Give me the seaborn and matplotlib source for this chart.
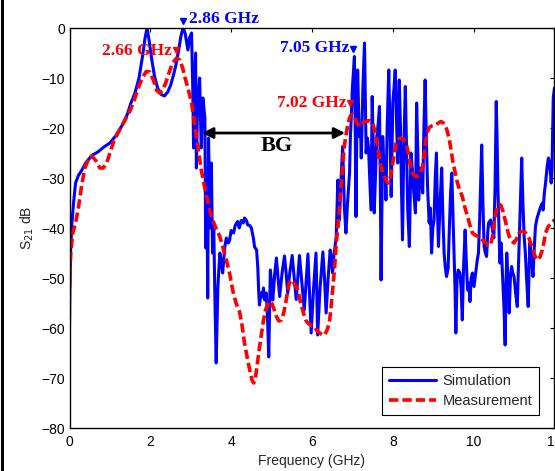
import seaborn as sns
import pandas as pd
import matplotlib
import matplotlib.pyplot as plt
from matplotlib.lines import Line2D

matplotlib.use('Agg')

# simulated S21 (GHz, dB)
sim_freq = [0.00, 0.01, 0.03, 0.06, 0.10, 0.15, 0.22, 0.30, 0.40, 0.55, 0.70, 0.85, 1.00, 1.15, 1.30,
            1.42, 1.52, 1.62, 1.72, 1.80, 1.87, 1.92, 1.97, 2.03, 2.10, 2.18, 2.27, 2.35, 2.43, 2.50,
            2.57, 2.63, 2.70, 2.76, 2.81, 2.86, 2.93, 2.97, 3.02, 3.05, 3.07, 3.10, 3.12, 3.14, 3.17,
            3.22, 3.26, 3.30, 3.35, 3.37, 3.40, 3.42, 3.44, 3.48, 3.51, 3.54, 3.57, 3.60, 3.63, 3.67,
            3.72, 3.76, 3.79, 3.84, 3.88, 3.93, 3.96, 4.00, 4.06, 4.10, 4.16, 4.20, 4.25, 4.30, 4.33,
            4.38, 4.41, 4.46, 4.50, 4.55, 4.58, 4.63, 4.66, 4.68, 4.70, 4.74, 4.77, 4.80, 4.83, 4.87,
            4.90, 4.93, 4.97, 5.00, 5.03, 5.08, 5.12, 5.16, 5.20, 5.26, 5.32, 5.36, 5.40, 5.45, 5.51,
            5.56, 5.61, 5.65, 5.69, 5.75, 5.81, 5.86, 5.90, 5.94, 5.98, 6.04, 6.10, 6.12, 6.14, 6.20,
            6.27, 6.31, 6.35, 6.40, 6.45, 6.48, 6.51, 6.55, 6.60, 6.62, 6.64, 6.66, 6.68, 6.72, 6.76,
            6.78, 6.80, 6.84, 6.88, 6.93, 6.95, 6.97, 7.00, 7.03, 7.05, 7.07, 7.09, 7.11, 7.13, 7.15,
            7.17, 7.20, 7.22, 7.26, 7.30, 7.32, 7.34, 7.37, 7.40, 7.43, 7.46, 7.49, 7.52, 7.54, 7.57,
            7.60, 7.64, 7.67, 7.69, 7.71, 7.73, 7.75, 7.78, 7.80, 7.83, 7.86, 7.90, 7.93, 7.96, 7.98,
            8.00, 8.03, 8.06, 8.09, 8.12, 8.14, 8.16, 8.19, 8.21, 8.24, 8.27, 8.31, 8.34, 8.37, 8.41,
            8.45, 8.48, 8.52, 8.56, 8.59, 8.62, 8.64, 8.68, 8.71, 8.74, 8.77, 8.80, 8.83, 8.86, 8.90,
            8.93, 8.96, 8.99, 9.02, 9.05, 9.08, 9.10, 9.13, 9.17, 9.21, 9.24, 9.27, 9.30, 9.33, 9.37,
            9.40, 9.43, 9.46, 9.49, 9.52, 9.54, 9.56, 9.59, 9.62, 9.66, 9.69, 9.72, 9.75, 9.79, 9.82,
            9.85, 9.88, 9.91, 9.94, 9.97, 10.01, 10.05, 10.09, 10.12, 10.15, 10.20, 10.23, 10.26, 10.29,
            10.32, 10.35, 10.37, 10.42, 10.46, 10.50, 10.53, 10.56, 10.58, 10.60, 10.65, 10.68, 10.72,
            10.75, 10.78, 10.80, 10.82, 10.85, 10.88, 10.91, 10.94, 10.97, 11.00, 11.04, 11.08, 11.12,
            11.16, 11.19, 11.22, 11.25, 11.28, 11.31, 11.35, 11.39, 11.43, 11.47, 11.50, 11.53, 11.57,
            11.61, 11.66, 11.70, 11.72, 11.75, 11.78, 11.82, 11.85, 11.88, 11.92, 11.94, 11.97, 12.00]
sim_db = [-60, -52, -44, -39, -35, -31, -29.5, -28.5, -27, -25.5, -24.8, -23.8, -23, -21.5, -19.5,
          -17.5, -15, -13, -10, -6, -2, 0, -2.5, -6, -9.5, -12, -13.3, -13.6, -12.8, -11.5,
          -9.5, -7.5, -4.5, -1.5, 0, -1.0, -4.4, -2, -1, -12, -24, -12, -5, -28, -15,
          -10, -24, -14, -18, -44, -30, -54, -22, -40, -27, -45, -40, -55, -67, -52,
          -45, -47, -49, -44, -42, -43, -42.5, -40.5, -41, -39.5, -38.7, -40, -38.5, -39, -38,
          -38.5, -39.4, -39.5, -40, -42, -43.8, -44.4, -48, -52.4, -55.4, -53, -53.8, -52, -54.4, -53,
          -58, -65.8, -48.4, -51, -54.4, -49, -46, -50, -53.7, -49, -45.6, -49, -53, -49, -45.5,
          -50, -54.3, -50, -45.5, -51, -56.4, -50, -45.2, -53, -61, -52, -45, -53, -61.4, -52,
          -44.8, -50, -57, -50, -44.4, -46, -49, -45, -41.7, -36, -30.4, -34, -38.4, -30, -23.7,
          -30, -35.7, -41, -35, -29, -22, -18.4, -12, -8, -5.7, -20, -37.7, -20, -8.4, -15,
          -21.7, -20, -26, -12, -3, -14, -25, -22, -24, -30, -36.4, -13.7, -25, -37, -30,
          -22, -19, -15.7, -30, -50.4, -35, -21.7, -28, -26, -34.4, -20, -8.4, -20, -33.7, -25,
          -15, -12, -8.4, -18, -27, -17, -10.4, -20, -30, -42.4, -25, -11.7, -24, -36.4, -43.7,
          -25, -28, -33, -37, -15, -25, -34.4, -28, -30, -33, -20, -10.4, -22, -31.7, -39,
          -36, -45, -40, -38.4, -30, -25, -35, -43.7, -35, -28, -38, -45, -48, -49.7, -48,
          -40, -33, -29, -38, -46.4, -52, -61, -50, -48.4, -49, -52, -58.4, -48, -40.4, -47,
          -52.4, -51, -54.7, -50, -49, -51.7, -49, -46.4, -45, -38, -23.4, -35, -43.7, -45,
          -45.7, -41, -39, -38.4, -40, -42, -32, -14.7, -22, -31.7, -47, -43, -50,
          -55.7, -63.4, -52, -45, -50, -57, -50, -47.7, -49, -49.7, -53, -55.7, -45,
          -35, -26, -35, -41.7, -45, -50, -55.7, -43, -46, -49.7, -44, -39.7, -38,
          -37, -35.7, -35, -36.4, -33, -31, -27.7, -26, -27, -31, -28, -14, -12]

# measured S21 (GHz, dB)
meas_freq = [0.00, 0.03, 0.08, 0.15, 0.22, 0.30, 0.38, 0.46, 0.55, 0.65, 0.75, 0.83, 0.92, 1.00, 1.10,
             1.20, 1.30, 1.40, 1.50, 1.60, 1.70, 1.80, 1.90, 1.99, 2.08, 2.16, 2.23, 2.30, 2.38, 2.46,
             2.55, 2.65, 2.73, 2.80, 2.85, 2.93, 3.02, 3.14, 3.26, 3.39, 3.51, 3.62, 3.72, 3.80, 3.88,
             3.96, 4.04, 4.12, 4.21, 4.27, 4.33, 4.40, 4.46, 4.52, 4.56, 4.60, 4.64, 4.69, 4.74, 4.80,
             4.85, 4.92, 4.99, 5.05, 5.12, 5.18, 5.24, 5.30, 5.35, 5.40, 5.44, 5.48, 5.53, 5.59, 5.65,
             5.72, 5.79, 5.85, 5.90, 5.98, 6.06, 6.12, 6.19, 6.25, 6.31, 6.37, 6.43, 6.47, 6.51, 6.56,
             6.60, 6.64, 6.68, 6.72, 6.76, 6.80, 6.84, 6.88, 6.93, 6.97, 7.01, 7.05, 7.11, 7.17, 7.25,
             7.34, 7.42, 7.50, 7.55, 7.58, 7.63, 7.67, 7.73, 7.79, 7.85, 7.90, 7.95, 8.00, 8.04, 8.08,
             8.14, 8.20, 8.27, 8.33, 8.37, 8.41, 8.45, 8.49, 8.55, 8.61, 8.68, 8.74, 8.78, 8.82, 8.86,
             8.90, 8.98, 9.07, 9.13, 9.19, 9.25, 9.31, 9.36, 9.40, 9.44, 9.48, 9.54, 9.60, 9.66, 9.72,
             9.78, 9.85, 9.91, 9.97, 10.05, 10.14, 10.22, 10.30, 10.36, 10.42, 10.47, 10.51, 10.55, 10.59,
             10.63, 10.67, 10.72, 10.78, 10.83, 10.88, 10.94, 11.00, 11.06, 11.12, 11.18, 11.25, 11.31,
             11.37, 11.43, 11.49, 11.54, 11.58, 11.64, 11.70, 11.74, 11.78, 11.84, 11.91, 12.00]
meas_db = [-52, -45, -41, -39, -36, -31.5, -28, -26.4, -25.6, -26.5, -28, -28, -27, -25, -22.5,
           -21, -19.5, -18, -16.5, -14.5, -12, -10, -8.7, -8.8, -10.5, -12.5, -13, -12.5, -11, -9,
           -7, -6, -6.4, -8, -9.7, -12, -15, -21.7, -28.4, -33.7, -37.7, -40, -41.7, -44, -46.4,
           -49, -52.5, -55, -56.8, -59.5, -63, -66, -68.4, -70.5, -71, -70, -67.7, -64.5, -61.7, -58.5,
           -56.4, -55, -54.7, -56, -57.7, -58.6, -58.4, -57, -55, -52.5, -51, -50.4, -50.7, -51.5, -52.4,
           -55, -57, -58.5, -59, -59.5, -59.7, -60.5, -61, -61.4, -61.4, -60.5, -59, -56, -52.4, -48,
           -43, -40, -36, -31.7, -27.5, -23.7, -21.5, -19.7, -18, -17.4, -17.3, -17.7, -19, -19.7, -19,
           -18.7, -18.5, -19, -20.5, -21.7, -24, -26.4, -28.5, -29.7, -30.7, -31, -29.5, -27, -25, -23,
           -22.2, -22, -22.3, -23, -24.5, -26.4, -28, -29, -29.6, -29.7, -29, -27.7, -25, -22.4, -20.8,
           -19.9, -19.5, -19.3, -19, -18.7, -19, -19.7, -21, -22.4, -24.3, -26.4, -28.8, -31, -32.5, -33.7,
           -35.8, -37.7, -39.5, -41, -41.5, -41.7, -42.4, -43, -43.5, -43.4, -41.5, -39, -37, -35.7,
           -35.3, -35.4, -36.5, -38.4, -40.2, -41.7, -42.6, -43, -42.2, -41, -40.7, -40.7, -41.2,
           -42, -43.5, -45, -46, -46.4, -45.8, -44.4, -42.8, -41, -39.8, -39, -38.4]

x_ticks = [0, 2, 4, 6, 8, 10, 12]
y_ticks = [-80, -70, -60, -50, -40, -30, -20, -10, 0]

sim_df = pd.DataFrame({'Frequency': sim_freq, 'S21': sim_db})
meas_df = pd.DataFrame({'Frequency': meas_freq, 'S21': meas_db})

sns.set_theme(style='white')
plt.rcParams['font.family'] = ['Liberation Sans', 'DejaVu Sans']
plt.rcParams.update({'xtick.direction': 'in', 'ytick.direction': 'in',
                     'xtick.top': True, 'ytick.right': True,
                     'xtick.major.size': 3, 'ytick.major.size': 3,
                     'xtick.major.width': 0.8, 'ytick.major.width': 0.8,
                     'xtick.color': 'black', 'ytick.color': 'black',
                     'axes.edgecolor': 'black', 'axes.linewidth': 1.0})

fig = plt.figure(figsize=(5.55, 4.71), dpi=100)
ax = fig.add_axes([69.5 / 555, 1 - 428 / 471, 1 - 69.5 / 555 - 0.001, 400 / 471])

sns.lineplot(data=sim_df, x='Frequency', y='S21', ax=ax, color='#0000ff',
             linewidth=2.2, estimator=None, sort=False, label='Simulation')
sns.lineplot(data=meas_df, x='Frequency', y='S21', ax=ax, color='#ff0000',
             linewidth=2.6, estimator=None, sort=False, label='Measurement')
ax.lines[1].set_dashes((2.6, 1.1))

ax.set_xlim(0, 12)
ax.set_ylim(-80, 0)
ax.set_xticks(x_ticks)
ax.set_yticks(y_ticks)
ax.tick_params(axis='x', labelsize=10, pad=5, colors='black')
ax.tick_params(axis='y', labelsize=10, pad=3, colors='black')
ax.set_xlabel('Frequency (GHz)', fontsize=10, labelpad=4)
ax.set_ylabel('S$_{21}$ dB', fontsize=10, labelpad=4)

# peak markers and labels
serif_bold = dict(family=['Liberation Serif', 'DejaVu Serif'], weight='bold', fontsize=12.5)
ax.plot([2.80], [1.4], marker='v', color='#0000ff', markersize=5, clip_on=False)
ax.text(2.96, 1.8, '2.86 GHz', color='#0000ff', ha='left', va='center', **serif_bold)
ax.plot([2.63], [-4.4], marker='v', color='#ff0000', markersize=5)
ax.text(2.53, -4.6, '2.66 GHz', color='#ff0000', ha='right', va='center', **serif_bold)
ax.plot([7.02], [-4.2], marker='v', color='#0000ff', markersize=5)
ax.text(6.93, -4.0, '7.05 GHz', color='#0000ff', ha='right', va='center', **serif_bold)
ax.plot([6.95], [-15.0], marker='v', color='#ff0000', markersize=5)
ax.text(6.86, -15.0, '7.02 GHz', color='#ff0000', ha='right', va='center', **serif_bold)

ax.annotate('', xy=(3.28, -21), xytext=(6.82, -21),
            arrowprops=dict(arrowstyle='<|-|>', color='black', lw=2,
                            mutation_scale=16, shrinkA=0, shrinkB=0))
ax.text(5.13, -23.6, 'BG', color='black', ha='center', va='center',
        family=['Liberation Serif', 'DejaVu Serif'], weight='bold', fontsize=16)

leg = ax.legend(loc='lower right', bbox_to_anchor=(0.969, 0.0325), borderaxespad=0,
                fontsize=10.5, frameon=True, fancybox=False, handlelength=3.2,
                handletextpad=0.45, borderpad=0.5, labelspacing=0.4)
leg.get_frame().set_edgecolor('black')
leg.get_frame().set_linewidth(0.8)
leg.get_frame().set_alpha(1)

# black frame line at the left edge of the picture
fig.add_artist(Line2D([2 / 555, 2 / 555], [0, 1], transform=fig.transFigure,
                      color='black', linewidth=2.2))

fig.savefig('out.png', dpi=100)
